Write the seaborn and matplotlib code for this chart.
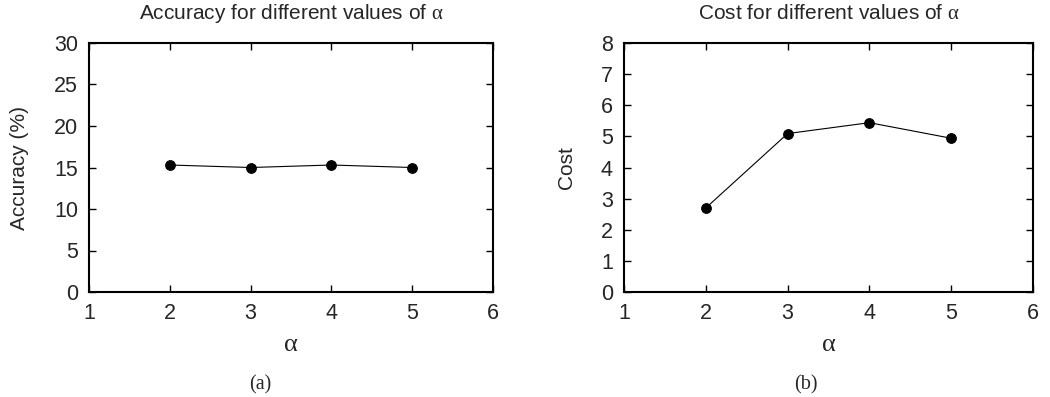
import numpy as np
import pandas as pd
import matplotlib
matplotlib.use("Agg")
import matplotlib.pyplot as plt
import seaborn as sns

# data
alpha = [2, 3, 4, 5]
accuracy = [15.3, 15.0, 15.3, 15.0]
cost = [2.70, 5.09, 5.44, 4.94]

sns.set_style("ticks")
plt.rcParams["font.family"] = ["Liberation Sans", "DejaVu Sans"]
plt.rcParams["mathtext.fontset"] = "custom"
plt.rcParams["mathtext.it"] = "Liberation Serif:italic"
plt.rcParams["mathtext.rm"] = "Liberation Serif"

fig = plt.figure(figsize=(10.5, 3.97), dpi=100)
ax1 = fig.add_axes([89 / 1050, 1 - 292 / 397, 404 / 1050, 249 / 397])
ax2 = fig.add_axes([624 / 1050, 1 - 292 / 397, 409 / 1050, 249 / 397])

df = pd.DataFrame({"alpha": alpha, "accuracy": accuracy, "cost": cost})

panels = [
    (ax1, "accuracy", "Accuracy (%)", "Accuracy for different values of", (0, 30), np.arange(0, 31, 5)),
    (ax2, "cost", "Cost", "Cost for different values of", (0, 8), np.arange(0, 9, 1)),
]

for ax, col, ylab, title, ylim, yticks in panels:
    sns.lineplot(data=df, x="alpha", y=col, ax=ax, color="black", linewidth=0.8,
                 marker="o", markersize=7, markeredgecolor="black")
    ax.set_xlim(1, 6)
    ax.set_ylim(*ylim)
    ax.set_xticks(range(1, 7))
    ax.set_yticks(yticks)
    ax.tick_params(direction="in", length=5, width=1, top=True, right=True,
                   labelsize=15.5, pad=8, color="black")
    for s in ax.spines.values():
        s.set_linewidth(1.5)
        s.set_color("black")
    ax.set_xlabel(r"$\mathrm{\alpha}$", fontsize=19, labelpad=6)
    ax.set_ylabel(ylab, fontsize=15, labelpad=18)
    ax.set_title(title + r" $\mathrm{\alpha}$", fontsize=15, pad=17)

fig.text(260 / 1050, 1 - 385 / 397, "(a)", ha="center", va="center",
         family="Liberation Serif", fontsize=14.5)
fig.text(806 / 1050, 1 - 385 / 397, "(b)", ha="center", va="center",
         family="Liberation Serif", fontsize=14.5)

fig.savefig("out.png", dpi=100)
